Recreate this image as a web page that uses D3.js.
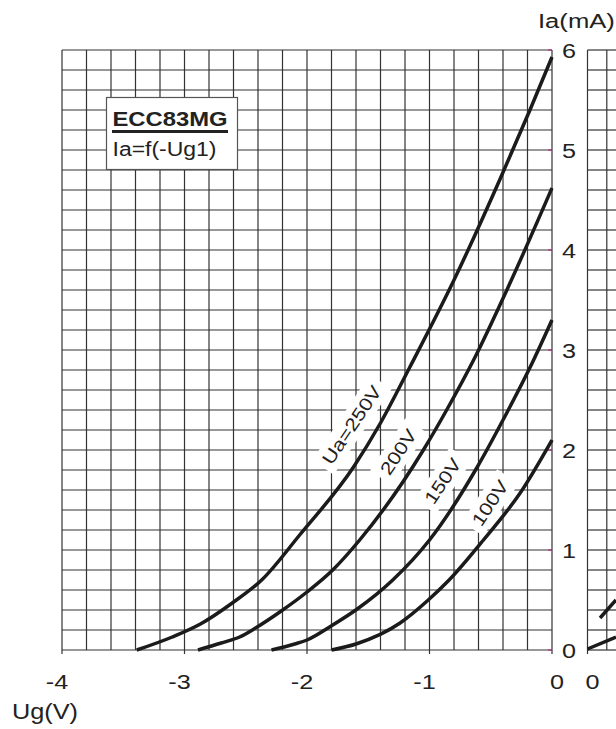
<!DOCTYPE html>
<html>
<head>
<meta charset="utf-8">
<script src="https://cdn.jsdelivr.net/npm/d3@7"></script>
<style>
  body { margin: 0; background: #fff; }
  svg { display: block; }
  text { font-family: "Liberation Sans", Arial, sans-serif; fill: #222; }
</style>
</head>
<body>
<svg id="chart" width="616" height="729"></svg>
<script>
// grid voltage (V) vs anode current (mA), one curve per anode voltage
const ua250 = [[-3.39, 0], [-3.10, 0.13], [-2.87, 0.26], [-2.61, 0.47], [-2.37, 0.70], [-2.06, 1.15],
  [-1.62, 1.83], [-1.40, 2.27], [-1.16, 2.83], [-0.80, 3.70], [-0.42, 4.72], [-0.18, 5.40], [0, 5.93]];
const ua200 = [[-2.89, 0], [-2.70, 0.07], [-2.55, 0.13], [-2.42, 0.22], [-2.21, 0.39], [-2.00, 0.58],
  [-1.79, 0.80], [-1.57, 1.10], [-1.05, 2.00], [-0.86, 2.40], [-0.64, 2.90], [-0.35, 3.65], [0, 4.62]];
const ua150 = [[-2.29, 0], [-2.10, 0.06], [-2.00, 0.10], [-1.79, 0.25], [-1.59, 0.41], [-1.30, 0.70],
  [-1.00, 1.10], [-0.61, 1.83], [-0.40, 2.30], [-0.15, 2.90], [0, 3.30]];
const ua100 = [[-1.80, 0], [-1.60, 0.06], [-1.24, 0.27], [-1.01, 0.50], [-0.84, 0.70], [-0.56, 1.10],
  [-0.26, 1.57], [0, 2.10]];
const curveNames = ['Ua=250V', '200V', '150V', '100V'];
const labelAt = [[-1.635, 2.25], [-1.255, 1.98], [-0.892, 1.69], [-0.506, 1.47]];

// the neighbouring chart (Ia vs Ua) that is cut off at the right edge
const rightCurves = [[[0, 0.01], [29.5, 0.13]], [[13, 0.32], [29.5, 0.50]]];

const xTicks = [-4, -3, -2, -1, 0];
const yTicks = [0, 1, 2, 3, 4, 5, 6];

const svg = d3.select('#chart');

const x = d3.scaleLinear().domain([-4, 0]).range([62, 552]);
const y = d3.scaleLinear().domain([0, 6]).range([650, 50]);
const xr = d3.scaleLinear().domain([0, 20]).range([587.5, 606.8]);

// grids
const grid = svg.append('g').attr('stroke', '#333').attr('stroke-width', 1.2);
grid.selectAll('.v').data(d3.range(-4, 0.001, 0.2))
  .enter().append('line')
  .attr('x1', d => x(d)).attr('x2', d => x(d))
  .attr('y1', y(6)).attr('y2', y(0));
grid.selectAll('.h').data(d3.range(0, 6.001, 0.2))
  .enter().append('line')
  .attr('x1', x(-4)).attr('x2', x(0))
  .attr('y1', d => y(d)).attr('y2', d => y(d));
grid.selectAll('.rv').data(d3.range(0, 40, 20))
  .enter().append('line')
  .attr('x1', d => xr(d)).attr('x2', d => xr(d))
  .attr('y1', y(6)).attr('y2', y(0));
grid.selectAll('.rh').data(d3.range(0, 6.001, 0.2))
  .enter().append('line')
  .attr('x1', xr(0)).attr('x2', 616)
  .attr('y1', d => y(d)).attr('y2', d => y(d));

// ticks below the x axis
svg.append('g').attr('stroke', '#333').attr('stroke-width', 1.2)
  .selectAll('line').data(xTicks).enter().append('line')
  .attr('x1', d => x(d)).attr('x2', d => x(d))
  .attr('y1', y(0)).attr('y2', y(0) + 4);
svg.append('line').attr('stroke', '#333').attr('stroke-width', 1.2)
  .attr('x1', xr(0)).attr('x2', xr(0)).attr('y1', y(0)).attr('y2', y(0) + 4);

// small magenta marks at the integer mA lines
svg.append('g').attr('stroke', '#b0308a').attr('stroke-width', 1.2)
  .selectAll('line').data(yTicks).enter().append('line')
  .attr('x1', x(0) - 4).attr('x2', x(0))
  .attr('y1', d => y(d)).attr('y2', d => y(d));

// curves
const line = d3.line().x(d => x(d[0])).y(d => y(d[1])).curve(d3.curveMonotoneX);
svg.append('g').selectAll('path').data([ua250, ua200, ua150, ua100])
  .enter().append('path')
  .attr('d', line)
  .attr('fill', 'none').attr('stroke', '#1b1b1b').attr('stroke-width', 3.5)
  .attr('stroke-linejoin', 'round');

const liner = d3.line().x(d => xr(d[0])).y(d => y(d[1]));
svg.append('g').selectAll('path').data(rightCurves)
  .enter().append('path')
  .attr('d', liner)
  .attr('fill', 'none').attr('stroke', '#1b1b1b').attr('stroke-width', 3.5);

// curve labels, rotated along the curves, on a white patch
const lab = svg.append('g').selectAll('g').data(curveNames)
  .enter().append('g')
  .attr('transform', (d, i) => `translate(${x(labelAt[i][0])},${y(labelAt[i][1])}) rotate(-56) scale(1.2,1)`);
lab.append('text')
  .attr('text-anchor', 'middle').attr('dy', '0.35em')
  .attr('font-size', 18)
  .text(d => d)
  .each(function () {
    const b = this.getBBox();
    d3.select(this.parentNode).insert('rect', 'text')
      .attr('x', b.x - 5).attr('y', b.y - 3)
      .attr('width', b.width + 10).attr('height', b.height + 6)
      .attr('fill', '#fff');
  });

// title box
const tb = svg.append('g');
tb.append('rect').attr('x', 106.5).attr('y', 97.5).attr('width', 131).attr('height', 72)
  .attr('fill', '#fff').attr('stroke', '#555').attr('stroke-width', 1.2);
tb.append('text').attr('x', 112.5).attr('y', 126)
  .attr('font-size', 19.5).attr('font-weight', 'bold')
  .attr('textLength', 115).attr('lengthAdjust', 'spacingAndGlyphs')
  .text('ECC83MG');
tb.append('line').attr('x1', 112).attr('x2', 228).attr('y1', 131.5).attr('y2', 131.5)
  .attr('stroke', '#222').attr('stroke-width', 3);
tb.append('text').attr('x', 112.5).attr('y', 156)
  .attr('font-size', 20)
  .attr('textLength', 104).attr('lengthAdjust', 'spacingAndGlyphs')
  .text('Ia=f(-Ug1)');

// axis labels
const stretched = (sel, tx, ty, s) => sel.attr('transform', `translate(${tx},${ty}) scale(${s},1)`);

svg.append('g').selectAll('text').data(xTicks).enter().append('text')
  .attr('text-anchor', 'middle').attr('font-size', 21)
  .attr('transform', d => `translate(${x(d) + (d < 0 ? -5 : 5)},689) scale(1.2,1)`)
  .text(d => d === 0 ? '0' : '-' + Math.abs(d));

svg.append('text').attr('text-anchor', 'middle').attr('font-size', 21)
  .attr('transform', `translate(${xr(0) + 5},689) scale(1.2,1)`)
  .text('0');

svg.append('g').selectAll('text').data(yTicks).enter().append('text')
  .attr('text-anchor', 'middle').attr('font-size', 21)
  .attr('transform', d => `translate(569,${y(d) + 7.5}) scale(1.2,1)`)
  .text(d => d);

stretched(svg.append('text').attr('font-size', 21).text('Ia(mA)'), 538, 28, 1.22);
stretched(svg.append('text').attr('font-size', 22).text('Ug(V)'), 12, 719, 1.15);
</script>
</body>
</html>
